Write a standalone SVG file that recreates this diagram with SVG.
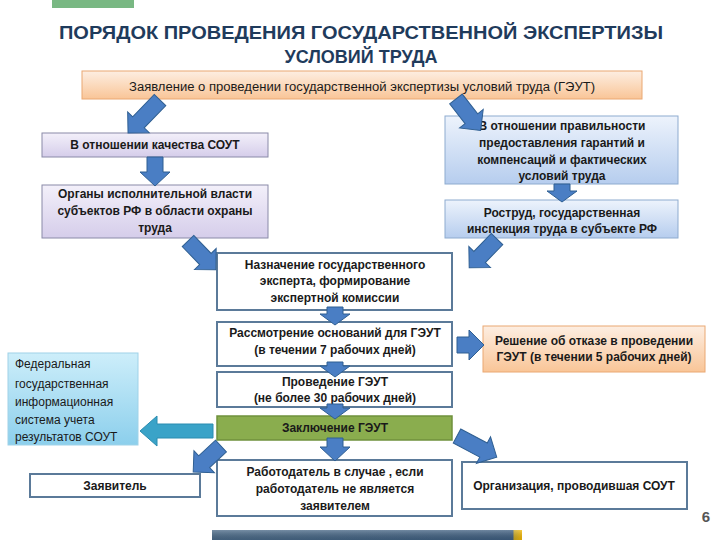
<svg xmlns="http://www.w3.org/2000/svg" width="720" height="540" viewBox="0 0 720 540">
<defs>
<linearGradient id="gOrange" x1="0" y1="0" x2="0" y2="1"><stop offset="0" stop-color="#fdeee2"/><stop offset="1" stop-color="#f9c597"/></linearGradient>
<linearGradient id="gLav" x1="0" y1="0" x2="0" y2="1"><stop offset="0" stop-color="#f3f0fa"/><stop offset="1" stop-color="#d5cdea"/></linearGradient>
<linearGradient id="gBlue" x1="0" y1="0" x2="0" y2="1"><stop offset="0" stop-color="#edf3fc"/><stop offset="1" stop-color="#b6cdee"/></linearGradient>
<linearGradient id="gTeal" x1="0" y1="0" x2="0" y2="1"><stop offset="0" stop-color="#cdeefa"/><stop offset="1" stop-color="#8ccfec"/></linearGradient>
<linearGradient id="gBar" x1="0" y1="0" x2="1" y2="0"><stop offset="0" stop-color="#4a6a88"/><stop offset="0.97" stop-color="#3e5e80"/><stop offset="0.975" stop-color="#c9a825"/><stop offset="1" stop-color="#f5b800"/></linearGradient>
<linearGradient id="gBarV" x1="0" y1="0" x2="0" y2="1"><stop offset="0" stop-color="#ffffff" stop-opacity="0.25"/><stop offset="1" stop-color="#000000" stop-opacity="0.1"/></linearGradient>
</defs>
<style>
.t{font-family:"Liberation Sans",Arial,sans-serif;font-size:12px;font-weight:bold;fill:#1a1a1a;text-anchor:middle}
.tr{font-family:"Liberation Sans",Arial,sans-serif;font-size:12px;fill:#1a1a1a}
.title{font-family:"Liberation Sans",Arial,sans-serif;font-size:18px;font-weight:bold;fill:#1f3b5c;text-anchor:middle}
.wb{fill:#ffffff;stroke:#5b7a99;stroke-width:2}
.arr{fill:#4a7ec4;stroke:#2f5f92;stroke-width:1}
.arrT{fill:#3aa3c8;stroke:#2b8cb0;stroke-width:1}
</style>
<rect x="52" y="0" width="82" height="8" fill="#79b883"/>
<text class="title" x="361" y="39" textLength="604" lengthAdjust="spacingAndGlyphs">ПОРЯДОК ПРОВЕДЕНИЯ ГОСУДАРСТВЕННОЙ ЭКСПЕРТИЗЫ</text>
<text class="title" x="361" y="63">УСЛОВИЙ ТРУДА</text>

<g id="node-top">
<rect x="82" y="71" width="560" height="28" fill="url(#gOrange)" stroke="#eaa873" stroke-width="1"/>
<text class="tr" x="362" y="91" text-anchor="middle" textLength="466" lengthAdjust="spacingAndGlyphs">Заявление о проведении государственной экспертизы условий труда (ГЭУТ)</text>
</g>
<g id="node-left1">
<rect x="42" y="133" width="226" height="24" fill="url(#gLav)" stroke="#8a8aa8" stroke-width="1"/>
<text class="t" x="155" y="149">В отношении качества СОУТ</text>
</g>
<g id="node-left2">
<rect x="42" y="185" width="226" height="53" fill="url(#gLav)" stroke="#8a8aa8" stroke-width="1"/>
<text class="t" x="155" y="198">Органы исполнительной власти</text>
<text class="t" x="155" y="215">субъектов РФ в области охраны</text>
<text class="t" x="155" y="232">труда</text>
</g>
<g id="node-right1">
<rect x="445" y="116" width="233" height="68" fill="url(#gBlue)" stroke="#8eabcf" stroke-width="1"/>
<text class="t" x="562" y="130">В отношении правильности</text>
<text class="t" x="562" y="147">предоставления гарантий и</text>
<text class="t" x="562" y="164">компенсаций и фактических</text>
<text class="t" x="562" y="180">условий труда</text>
</g>
<g id="node-right2">
<rect x="445" y="200" width="233" height="38" fill="url(#gBlue)" stroke="#8eabcf" stroke-width="1"/>
<text class="t" x="562" y="217">Роструд, государственная</text>
<text class="t" x="562" y="233">инспекция труда в субъекте РФ</text>
</g>
<g id="node-c1">
<rect class="wb" x="217" y="253" width="235" height="57"/>
<text class="t" x="335" y="269">Назначение государственного</text>
<text class="t" x="335" y="285">эксперта, формирование</text>
<text class="t" x="335" y="302">экспертной комиссии</text>
</g>
<g id="node-c2">
<rect class="wb" x="217" y="322" width="235" height="44"/>
<text class="t" x="335" y="337">Рассмотрение оснований для ГЭУТ</text>
<text class="t" x="335" y="354">(в течении 7 рабочих дней)</text>
</g>
<g id="node-c3">
<rect class="wb" x="217" y="372" width="235" height="35"/>
<text class="t" x="335" y="386">Проведение ГЭУТ</text>
<text class="t" x="335" y="402">(не более 30 рабочих дней)</text>
</g>
<g id="node-c4">
<rect x="217" y="416" width="235" height="24" fill="#8aad4e" stroke="#6f913c" stroke-width="1.5"/>
<text class="t" x="335" y="432">Заключение ГЭУТ</text>
</g>
<g id="node-c5">
<rect class="wb" x="217" y="460" width="235" height="56"/>
<text class="t" x="335" y="476">Работодатель в случае , если</text>
<text class="t" x="335" y="493">работодатель не является</text>
<text class="t" x="335" y="510">заявителем</text>
</g>
<g id="node-refuse">
<rect x="483" y="326" width="222" height="46" fill="url(#gOrange)" stroke="#eaa873" stroke-width="1"/>
<text class="t" x="594" y="345">Решение об отказе в проведении</text>
<text class="t" x="594" y="361">ГЭУТ (в течении 5 рабочих дней)</text>
</g>
<g id="node-fgis">
<rect x="8" y="353" width="130" height="92" fill="url(#gTeal)" stroke="#9fd2e8" stroke-width="1"/>
<text class="tr" x="15" y="368">Федеральная</text>
<text class="tr" x="15" y="388">государственная</text>
<text class="tr" x="15" y="406">информационная</text>
<text class="tr" x="15" y="424">система учета</text>
<text class="tr" x="15" y="441">результатов СОУТ</text>
</g>
<g id="node-applicant">
<rect class="wb" x="30" y="474" width="170" height="23"/>
<text class="t" x="115" y="490">Заявитель</text>
</g>
<g id="node-org">
<rect class="wb" x="462" y="462" width="225" height="47"/>
<text class="t" x="574" y="490">Организация, проводившая СОУТ</text>
</g>

<g id="connectors">
<path class="arr" transform="translate(160,100) rotate(134)" d="M0,-8 H31 V-15 L46,0 L31,15 V8 H0 Z"/>
<path class="arr" transform="translate(456,99) rotate(52)" d="M0,-8 H25 V-15 L40,0 L25,15 V8 H0 Z"/>
<path class="arr" transform="translate(155,157) rotate(90)" d="M0,-8 H15 V-15 L29,0 L15,15 V8 H0 Z"/>
<path class="arr" transform="translate(562,184) rotate(90)" d="M0,-8 H7 V-15 L18,0 L7,15 V8 H0 Z"/>
<path class="arr" transform="translate(188,241) rotate(46)" d="M0,-8 H25 V-15 L40,0 L25,15 V8 H0 Z"/>
<path class="arr" transform="translate(497,239) rotate(134)" d="M0,-8 H25 V-15 L40,0 L25,15 V8 H0 Z"/>
<path class="arr" transform="translate(335,307) rotate(90)" d="M0,-8 H7 V-15 L18,0 L7,15 V8 H0 Z"/>
<path class="arr" transform="translate(457,345) rotate(0)" d="M0,-8 H12 V-15 L27,0 L12,15 V8 H0 Z"/>
<path class="arr" transform="translate(335,362) rotate(90)" d="M0,-8 H4 V-15 L15,0 L4,15 V8 H0 Z"/>
<path class="arr" transform="translate(335,404) rotate(90)" d="M0,-8 H4 V-15 L15,0 L4,15 V8 H0 Z"/>
<path class="arrT" transform="translate(213,431) rotate(180)" d="M0,-7 H56 V-15 L73,0 L56,15 V7 H0 Z"/>
<path class="arr" transform="translate(221,446) rotate(137)" d="M0,-8 H23 V-15 L38,0 L23,15 V8 H0 Z"/>
<path class="arr" transform="translate(335,438) rotate(90)" d="M0,-8 H9 V-15 L23,0 L9,15 V8 H0 Z"/>
<path class="arr" transform="translate(457,436) rotate(28)" d="M0,-8 H30 V-15 L45,0 L30,15 V8 H0 Z"/>
</g>

<rect x="212" y="530" width="310" height="10" fill="url(#gBar)"/>
<rect x="212" y="530" width="310" height="10" fill="url(#gBarV)"/>
<text x="706" y="522" font-family="Liberation Sans,Arial,sans-serif" font-size="15" font-weight="bold" fill="#555555" text-anchor="middle">6</text>
</svg>
